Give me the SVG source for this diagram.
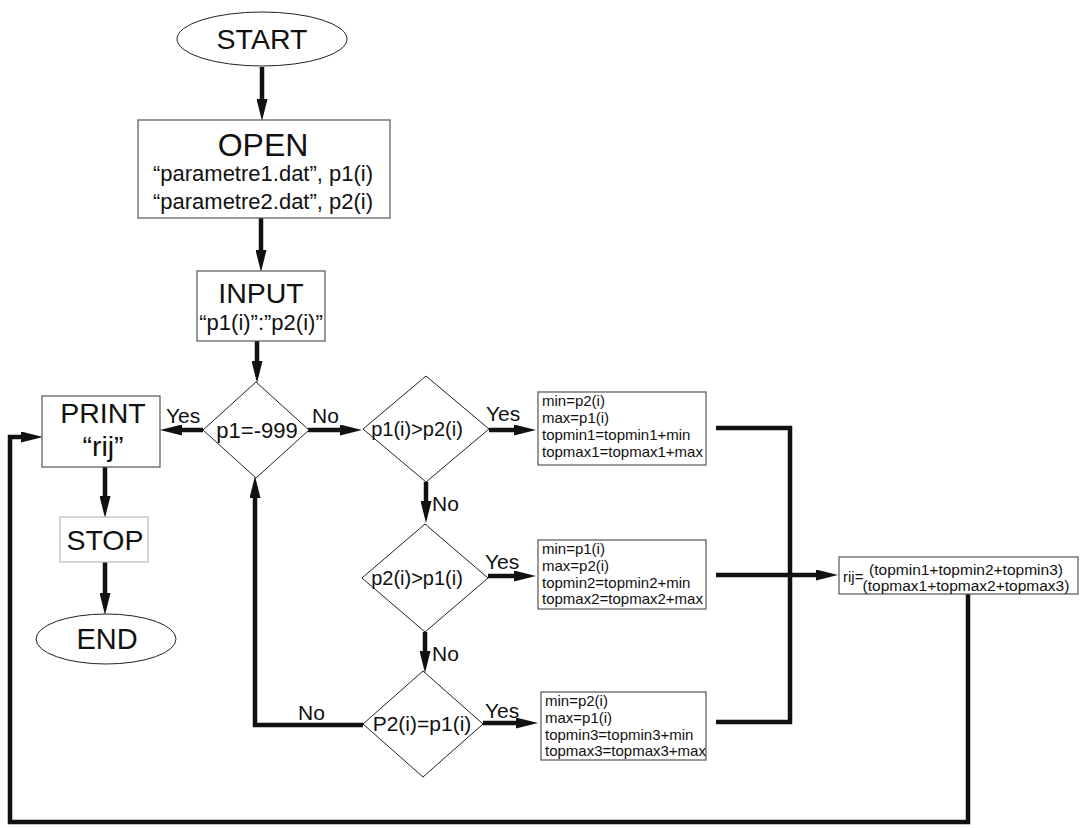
<svg xmlns="http://www.w3.org/2000/svg" width="1081" height="828" viewBox="0 0 1081 828">
  <style>
    text { font-family: "Liberation Sans", Arial, sans-serif; fill: #111; }
    .box { fill: #fff; stroke: #555; stroke-width: 1.2; }
    .light { fill: #fff; stroke: #bbb; stroke-width: 1.2; }
    .shape { fill: #fff; stroke: #222; stroke-width: 1; }
    .wire { fill: none; stroke: #111; stroke-width: 4.5; stroke-linejoin: miter; }
    .arrow { fill: none; stroke: #111; stroke-width: 4.5; marker-end: url(#ah); }
    .big { font-size: 28.5px; text-anchor: middle; }
    .mid { font-size: 20px; text-anchor: middle; }
    .lbl { font-size: 21px; }
    .small { font-size: 15px; }
  </style>
  <defs>
    <marker id="ah" markerUnits="userSpaceOnUse" viewBox="0 0 22 11" markerWidth="22" markerHeight="11" refX="0" refY="5.5" orient="auto">
      <path d="M0,0 L22,5.5 L0,11 z" fill="#111"/>
    </marker>
  </defs>

  <!-- connectors -->
  <g id="connectors">
    <line class="arrow" x1="262" y1="67" x2="262" y2="99"/>
    <line class="arrow" x1="261" y1="218" x2="261" y2="250"/>
    <line class="arrow" x1="257" y1="341" x2="257" y2="361"/>
    <line class="arrow" x1="203" y1="430" x2="182" y2="430"/>
    <line class="arrow" x1="308" y1="430" x2="340" y2="430"/>
    <line class="arrow" x1="489" y1="430" x2="514" y2="430"/>
    <line class="arrow" x1="426" y1="482" x2="426" y2="501"/>
    <line class="arrow" x1="488" y1="576" x2="514" y2="576"/>
    <line class="arrow" x1="425" y1="632" x2="425" y2="651"/>
    <line class="arrow" x1="483" y1="723" x2="516" y2="723"/>
    <polyline class="arrow" points="363,725 255,725 255,498"/>
    <polyline class="wire" points="716,428 790,428 790,722 716,722"/>
    <line class="arrow" x1="716" y1="575" x2="816" y2="575"/>
    <polyline class="arrow" points="968,594 968,822 10,822 10,437 21,437"/>
    <line class="arrow" x1="105" y1="467" x2="105" y2="496"/>
    <line class="arrow" x1="105" y1="562" x2="105" y2="593"/>
    <text class="lbl" x="166" y="423">Yes</text>
    <text class="lbl" x="312" y="423">No</text>
    <text class="lbl" x="486" y="421">Yes</text>
    <text class="lbl" x="432" y="511">No</text>
    <text class="lbl" x="485" y="569">Yes</text>
    <text class="lbl" x="432" y="661">No</text>
    <text class="lbl" x="485" y="718">Yes</text>
    <text class="lbl" x="298" y="720">No</text>
  </g>

  <g id="start">
    <ellipse class="shape" cx="262" cy="39" rx="85" ry="27"/>
    <text class="big" x="262" y="49">START</text>
  </g>

  <g id="open">
    <rect class="box" x="138" y="120" width="252" height="98"/>
    <text class="big" x="263" y="156" style="font-size:32px">OPEN</text>
    <text class="mid" x="263" y="181" style="font-size:22px">“parametre1.dat”, p1(i)</text>
    <text class="mid" x="263" y="209" style="font-size:22px">“parametre2.dat”, p2(i)</text>
  </g>

  <g id="input">
    <rect class="box" x="197" y="271" width="128" height="70"/>
    <text class="big" x="261" y="303">INPUT</text>
    <text class="mid" x="261" y="330" style="font-size:22px">“p1(i)”:”p2(i)”</text>
  </g>

  <g id="check-end">
    <polygon class="shape" points="256,382 309,430 256,478 203,430"/>
    <text class="mid" x="257" y="438" style="font-size:22px">p1=-999</text>
  </g>

  <g id="print">
    <rect class="box" x="42" y="396" width="118" height="71"/>
    <text class="big" x="103" y="423">PRINT</text>
    <text class="big" x="103" y="456">“rij”</text>
  </g>

  <g id="stop">
    <rect class="light" x="60" y="517" width="88" height="45"/>
    <text class="big" x="105" y="550">STOP</text>
  </g>

  <g id="end">
    <ellipse class="shape" cx="106" cy="639" rx="70" ry="25"/>
    <text class="big" x="107" y="649" style="font-size:29px">END</text>
  </g>

  <g id="cmp1">
    <polygon class="shape" points="426,376 489,429 426,482 363,429"/>
    <text class="mid" x="417" y="436">p1(i)&gt;p2(i)</text>
  </g>

  <g id="cmp2">
    <polygon class="shape" points="425,524 488,578 425,632 362,578"/>
    <text class="mid" x="417" y="585">p2(i)&gt;p1(i)</text>
  </g>

  <g id="cmp3">
    <polygon class="shape" points="423,671 483,724 423,777 363,724"/>
    <text class="mid" x="422" y="731" style="font-size:21px">P2(i)=p1(i)</text>
  </g>

  <g id="case1">
    <rect class="box" x="538" y="392" width="168" height="73"/>
    <text class="small" x="542" y="406">min=p2(i)</text>
    <text class="small" x="542" y="423">max=p1(i)</text>
    <text class="small" x="542" y="440">topmin1=topmin1+min</text>
    <text class="small" x="542" y="457">topmax1=topmax1+max</text>
  </g>

  <g id="case2">
    <rect class="box" x="538" y="540" width="168" height="69"/>
    <text class="small" x="542" y="554">min=p1(i)</text>
    <text class="small" x="542" y="571">max=p2(i)</text>
    <text class="small" x="542" y="588">topmin2=topmin2+min</text>
    <text class="small" x="542" y="604">topmax2=topmax2+max</text>
  </g>

  <g id="case3">
    <rect class="box" x="541" y="692" width="165" height="68"/>
    <text class="small" x="545" y="706">min=p2(i)</text>
    <text class="small" x="545" y="723">max=p1(i)</text>
    <text class="small" x="545" y="740">topmin3=topmin3+min</text>
    <text class="small" x="545" y="756">topmax3=topmax3+max</text>
  </g>

  <g id="ratio">
    <rect class="box" x="839" y="557" width="239" height="37"/>
    <text class="small" x="843" y="582">rij=</text>
    <text class="small" x="966" y="575" text-anchor="middle" style="font-size:15.5px">(topmin1+topmin2+topmin3)</text>
    <text class="small" x="966" y="591" text-anchor="middle" style="font-size:15.5px">(topmax1+topmax2+topmax3)</text>
  </g>
</svg>
